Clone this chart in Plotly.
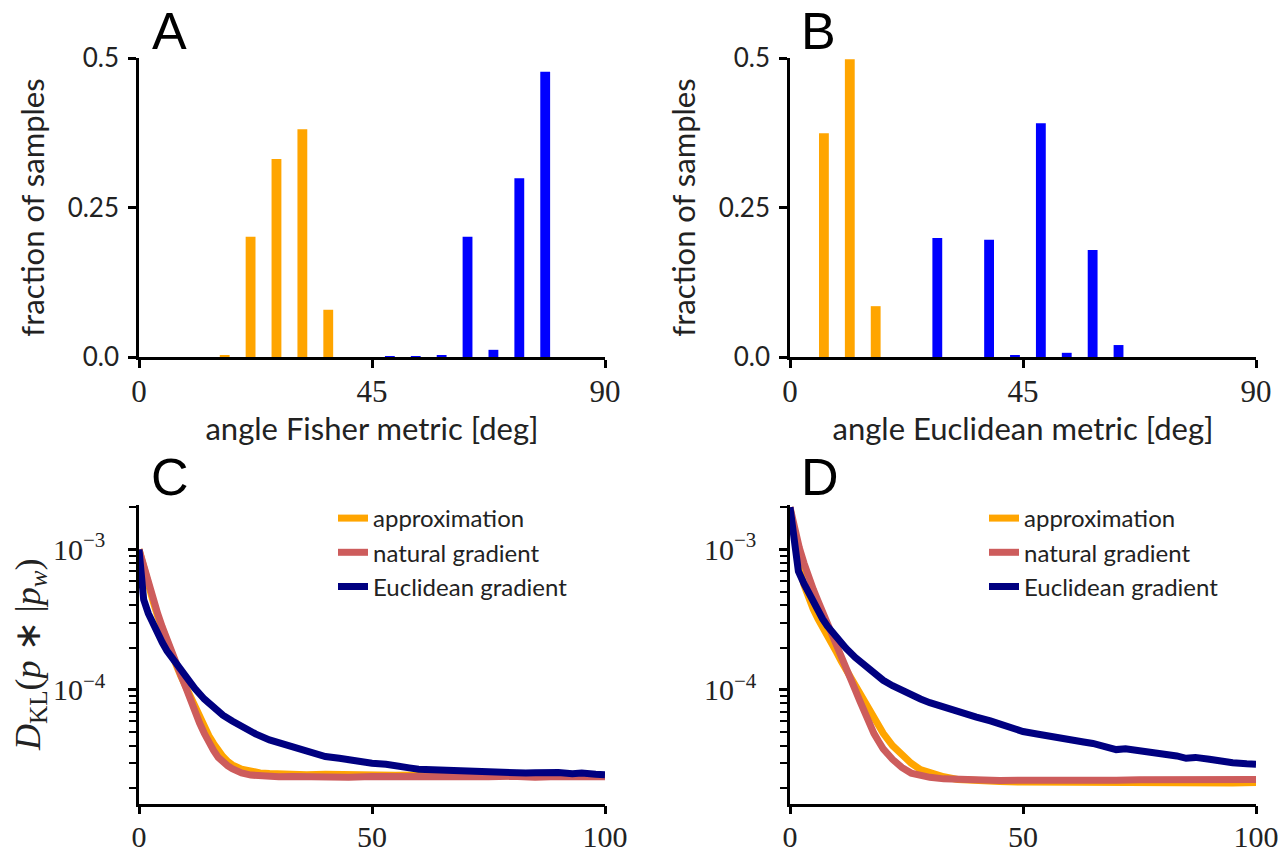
import plotly.graph_objects as go

W, H = 1279, 854

# ---------------- data ----------------
bins = [2.5, 7.5, 12.5, 17.5, 22.5, 27.5, 32.5, 37.5, 42.5, 47.5, 52.5, 57.5, 62.5, 67.5, 72.5, 77.5, 82.5, 87.5]
A_approx = [0, 0, 0, 0.003, 0.201, 0.331, 0.381, 0.079, 0, 0, 0, 0, 0, 0, 0, 0, 0, 0]
A_eucl = [0, 0, 0, 0, 0, 0, 0, 0, 0, 0.001, 0.001, 0.003, 0.201, 0.012, 0.299, 0.477, 0, 0]
B_approx = [0, 0.374, 0.498, 0.085, 0, 0, 0, 0, 0, 0, 0, 0, 0, 0, 0, 0, 0, 0]
B_eucl = [0, 0, 0, 0, 0, 0.199, 0, 0.196, 0.002, 0.391, 0.007, 0.179, 0.020, 0, 0, 0, 0, 0]

C_approx_x = [0, 1, 2, 3, 4, 5, 6, 7, 8, 9, 10, 11, 12, 13, 14, 15, 16, 17, 18, 19, 20, 22, 24, 26, 28, 30, 33, 36, 40, 45, 50, 55, 60, 65, 70, 75, 80, 85, 90, 95, 100]
C_approx_y = [1.0e-3, 7.3e-4, 5.5e-4, 4.3e-4, 3.35e-4, 2.7e-4, 2.15e-4, 1.8e-4, 1.5e-4, 1.25e-4, 1.05e-4, 8.8e-5, 7.4e-5, 6.3e-5, 5.4e-5, 4.7e-5, 4.15e-5, 3.7e-5, 3.35e-5, 3.1e-5, 2.92e-5, 2.72e-5, 2.62e-5, 2.56e-5, 2.53e-5, 2.5e-5, 2.5e-5, 2.48e-5, 2.5e-5, 2.47e-5, 2.49e-5, 2.46e-5, 2.47e-5, 2.45e-5, 2.46e-5, 2.44e-5, 2.45e-5, 2.43e-5, 2.44e-5, 2.42e-5, 2.43e-5]
C_nat_x = [0, 1, 2, 3, 4, 5, 6, 7, 8, 9, 10, 11, 12, 13, 14, 15, 16, 17, 18, 19, 20, 22, 24, 26, 28, 30, 33, 36, 40, 45, 50, 55, 60, 65, 70, 75, 80, 85, 90, 95, 100]
C_nat_y = [1.0e-3, 7.5e-4, 5.7e-4, 4.5e-4, 3.5e-4, 2.8e-4, 2.25e-4, 1.85e-4, 1.55e-4, 1.27e-4, 1.05e-4, 8.4e-5, 6.8e-5, 5.8e-5, 4.9e-5, 4.2e-5, 3.7e-5, 3.3e-5, 3.05e-5, 2.88e-5, 2.74e-5, 2.56e-5, 2.47e-5, 2.43e-5, 2.41e-5, 2.4e-5, 2.41e-5, 2.39e-5, 2.42e-5, 2.38e-5, 2.41e-5, 2.4e-5, 2.43e-5, 2.39e-5, 2.41e-5, 2.4e-5, 2.42e-5, 2.38e-5, 2.41e-5, 2.39e-5, 2.4e-5]
C_eucl_x = [0, 1, 2, 3, 4, 5, 6, 7, 8, 9, 10, 12, 14, 16, 18, 20, 22, 25, 28, 30, 33, 36, 40, 43, 45, 48, 50, 53, 55, 58, 60, 63, 65, 68, 70, 73, 75, 78, 80, 83, 85, 88, 90, 93, 95, 98, 100]
C_eucl_y = [1.0e-3, 4.4e-4, 3.5e-4, 2.95e-4, 2.5e-4, 2.17e-4, 1.9e-4, 1.7e-4, 1.55e-4, 1.37e-4, 1.23e-4, 1.02e-4, 8.6e-5, 7.5e-5, 6.6e-5, 6.0e-5, 5.5e-5, 4.85e-5, 4.4e-5, 4.2e-5, 3.9e-5, 3.6e-5, 3.35e-5, 3.25e-5, 3.15e-5, 3.05e-5, 3.0e-5, 2.95e-5, 2.85e-5, 2.78e-5, 2.72e-5, 2.7e-5, 2.66e-5, 2.64e-5, 2.62e-5, 2.6e-5, 2.58e-5, 2.55e-5, 2.52e-5, 2.55e-5, 2.57e-5, 2.6e-5, 2.58e-5, 2.52e-5, 2.55e-5, 2.5e-5, 2.48e-5]

D_approx_x = [0, 1, 2, 3, 4, 5, 6, 7, 8, 9, 10, 11, 12, 13, 14, 15, 16, 17, 18, 19, 20, 22, 24, 26, 28, 30, 33, 36, 40, 45, 50, 55, 60, 65, 70, 75, 80, 85, 90, 95, 100]
D_approx_y = [2.0e-3, 1.2e-3, 7.6e-4, 5.6e-4, 4.5e-4, 3.75e-4, 3.2e-4, 2.75e-4, 2.4e-4, 2.1e-4, 1.85e-4, 1.6e-4, 1.4e-4, 1.2e-4, 1.05e-4, 9.2e-5, 8.0e-5, 7.0e-5, 6.2e-5, 5.5e-5, 4.9e-5, 4.0e-5, 3.45e-5, 3.0e-5, 2.7e-5, 2.55e-5, 2.4e-5, 2.3e-5, 2.25e-5, 2.22e-5, 2.2e-5, 2.19e-5, 2.2e-5, 2.18e-5, 2.17e-5, 2.19e-5, 2.17e-5, 2.19e-5, 2.18e-5, 2.17e-5, 2.19e-5]
D_nat_x = [0, 1, 2, 3, 4, 5, 6, 7, 8, 9, 10, 11, 12, 13, 14, 15, 16, 17, 18, 19, 20, 22, 24, 26, 28, 30, 33, 36, 40, 45, 50, 55, 60, 65, 70, 75, 80, 85, 90, 95, 100]
D_nat_y = [2.0e-3, 1.35e-3, 1.03e-3, 8.0e-4, 6.3e-4, 5.2e-4, 4.3e-4, 3.55e-4, 2.95e-4, 2.45e-4, 2.0e-4, 1.65e-4, 1.36e-4, 1.17e-4, 1.0e-4, 8.3e-5, 6.8e-5, 5.8e-5, 4.9e-5, 4.3e-5, 3.8e-5, 3.2e-5, 2.8e-5, 2.55e-5, 2.45e-5, 2.38e-5, 2.32e-5, 2.29e-5, 2.27e-5, 2.26e-5, 2.27e-5, 2.26e-5, 2.27e-5, 2.25e-5, 2.27e-5, 2.29e-5, 2.28e-5, 2.29e-5, 2.27e-5, 2.29e-5, 2.3e-5]
D_eucl_x = [0, 1.8, 3, 4, 5, 6, 7, 8, 10, 12, 14, 16, 18, 20, 22, 25, 28, 30, 33, 35, 38, 40, 43, 45, 48, 50, 53, 55, 58, 60, 63, 65, 68, 70, 72, 75, 78, 80, 83, 85, 87, 90, 92, 95, 98, 100]
D_eucl_y = [2.0e-3, 7.0e-4, 5.7e-4, 4.9e-4, 4.2e-4, 3.6e-4, 3.2e-4, 2.85e-4, 2.35e-4, 1.98e-4, 1.7e-4, 1.5e-4, 1.32e-4, 1.17e-4, 1.07e-4, 9.5e-5, 8.6e-5, 8.1e-5, 7.5e-5, 7.1e-5, 6.7e-5, 6.4e-5, 6.0e-5, 5.7e-5, 5.3e-5, 5.05e-5, 4.85e-5, 4.75e-5, 4.5e-5, 4.4e-5, 4.25e-5, 4.15e-5, 3.95e-5, 3.75e-5, 3.8e-5, 3.7e-5, 3.55e-5, 3.45e-5, 3.38e-5, 3.25e-5, 3.3e-5, 3.2e-5, 3.1e-5, 3.02e-5, 2.97e-5, 2.95e-5]

series_names = ["approximation", "natural gradient", "Euclidean gradient"]
series_colors = ["#FFA500", "#CD5C5C", "#000080"]
hist_colors = ["#FFA500", "#0000FF"]

# ---------------- figure ----------------
fig = go.Figure()

BAR_W = 1.9
for xa, ya, vals_a, vals_e in [("x", "y", A_approx, A_eucl), ("x2", "y2", B_approx, B_eucl)]:
    fig.add_trace(go.Bar(x=bins, y=vals_a, width=BAR_W, offset=-BAR_W, marker=dict(color=hist_colors[0], line=dict(width=0)),
                         xaxis=xa, yaxis=ya, showlegend=False))
    fig.add_trace(go.Bar(x=bins, y=vals_e, width=BAR_W, offset=0, marker=dict(color=hist_colors[1], line=dict(width=0)),
                         xaxis=xa, yaxis=ya, showlegend=False))

for xa, ya, leg, data in [
    ("x3", "y3", "legend", [(C_approx_x, C_approx_y), (C_nat_x, C_nat_y), (C_eucl_x, C_eucl_y)]),
    ("x4", "y4", "legend2", [(D_approx_x, D_approx_y), (D_nat_x, D_nat_y), (D_eucl_x, D_eucl_y)]),
]:
    for (xs, ys), name, col in zip(data, series_names, series_colors):
        fig.add_trace(go.Scatter(x=xs, y=ys, mode="lines", name=name, line=dict(color=col, width=7),
                                 xaxis=xa, yaxis=ya, legend=leg))

SANS = "Lato"
SERIF = "Liberation Serif"
LETTER = "Liberation Sans"
TXT = "#222"

def px_x(p):
    return p / W

def px_y(p):
    return 1 - p / H

common = dict(showline=True, linecolor="black", linewidth=2.5, ticks="outside", ticklen=8, tickwidth=2.5,
              tickcolor="black", showgrid=False, zeroline=False, automargin=False, ticklabeloverflow="allow")

dom_x_left = [px_x(139), px_x(605)]
dom_x_right = [px_x(790), px_x(1256)]
dom_y_top = [px_y(357), px_y(58)]
dom_y_bot = [px_y(803.5), px_y(505)]

hist_x = dict(range=[0, 90], tickvals=[0, 45, 90], ticktext=["0", "45", "90"],
              tickfont=dict(family=SERIF, size=31, color=TXT), ticklabelstandoff=-3, **common)
hist_y = dict(range=[0, 0.5], tickvals=[0, 0.25, 0.5], ticktext=["0.0", "0.25", "0.5"],
              tickfont=dict(family=SANS, size=26, color=TXT), ticklabelstandoff=4,
              title=dict(text="fraction of samples", font=dict(family=SANS, size=31, color=TXT), standoff=14), **common)

minor_vals = [k * 1e-5 for k in range(2, 10)] + [k * 1e-4 for k in range(2, 10)] + [2e-3]
curve_x = dict(range=[0, 100], tickvals=[0, 50, 100], ticktext=["0", "50", "100"],
               tickfont=dict(family=SERIF, size=30, color=TXT), ticklabelstandoff=-3, **common)
curve_y = dict(type="log", range=[-4.81, -2.683], tickvals=[1e-4, 1e-3],
               ticktext=["10<sup>−4</sup>", "10<sup>−3</sup>"],
               tickfont=dict(family=SERIF, size=30, color=TXT), ticklabelstandoff=17,
               minor=dict(tickvals=minor_vals, ticks="outside", ticklen=7, tickwidth=2, tickcolor="black"),
               **common)

fig.update_layout(
    width=W, height=H, margin=dict(l=0, r=0, t=0, b=0, autoexpand=False),
    paper_bgcolor="white", plot_bgcolor="white",
    xaxis=dict(domain=dom_x_left, anchor="y",
               title=dict(text="angle Fisher metric [deg]", font=dict(family=SANS, size=31, color=TXT), standoff=6), **hist_x),
    yaxis=dict(domain=dom_y_top, anchor="x", **hist_y),
    xaxis2=dict(domain=dom_x_right, anchor="y2",
                title=dict(text="angle Euclidean metric [deg]", font=dict(family=SANS, size=31, color=TXT), standoff=6), **hist_x),
    yaxis2=dict(domain=dom_y_top, anchor="x2", **hist_y),
    xaxis3=dict(domain=dom_x_left, anchor="y3", **curve_x),
    yaxis3=dict(domain=dom_y_bot, anchor="x3",
                title=dict(text="<i>D</i><sub>KL</sub>(<i>p</i> ∗ |<i>p<sub>w</sub></i>)",
                           font=dict(family=SERIF, size=36, color=TXT), standoff=2), **curve_y),
    xaxis4=dict(domain=dom_x_right, anchor="y4", **curve_x),
    yaxis4=dict(domain=dom_y_bot, anchor="x4", **curve_y),
    legend=dict(x=px_x(333), y=px_y(496), xanchor="left", yanchor="top", bgcolor="rgba(0,0,0,0)",
                font=dict(family=SANS, size=24, color=TXT), tracegroupgap=0, itemwidth=30),
    legend2=dict(x=px_x(984), y=px_y(496), xanchor="left", yanchor="top", bgcolor="rgba(0,0,0,0)",
                 font=dict(family=SANS, size=24, color=TXT), tracegroupgap=0, itemwidth=30),
    barmode="overlay",
    showlegend=True,
)

for letter, xpx, ypx in [("A", 150, 0), ("B", 799, 0), ("C", 149, 446), ("D", 799, 446)]:
    fig.add_annotation(text=letter, x=px_x(xpx), y=px_y(ypx), xref="paper", yref="paper",
                       xanchor="left", yanchor="top", showarrow=False,
                       font=dict(family=LETTER, size=52, color="black"))

fig.write_html("out.html")
